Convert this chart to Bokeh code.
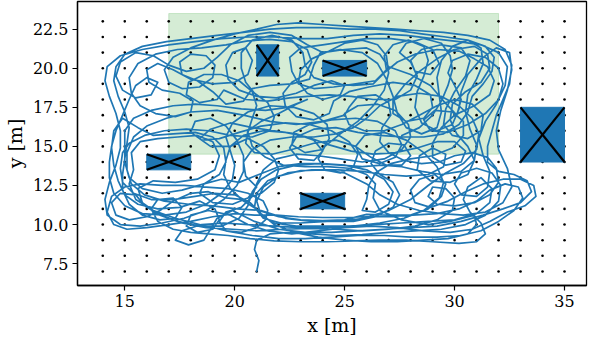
from bokeh.plotting import figure
from bokeh.models import Range1d, FixedTicker, PrintfTickFormatter
from bokeh.embed import file_html
from bokeh.resources import INLINE

# ---------------- data ----------------
x_ticks = [15, 20, 25, 30, 35]
y_ticks = [7.5, 10.0, 12.5, 15.0, 17.5, 20.0, 22.5]

grid_x = list(range(14, 36))
grid_y = list(range(7, 24))

goal_left, goal_right, goal_bottom, goal_top = 17, 32, 14.5, 23.5

obs_x0 = [21, 24, 16, 23, 33]
obs_x1 = [22, 26, 18, 25, 35]
obs_y0 = [19.5, 19.5, 13.5, 11.0, 14.0]
obs_y1 = [21.5, 20.5, 14.5, 12.0, 17.5]

trajectory = [
    (21.0,7.0),(21.1,7.7),(20.9,8.4),(21.0,9.0),(21.6,9.4),(22.5,9.5),(23.5,9.4),(24.6,9.3),(25.8,9.35),(27.0,9.5),
    (28.2,9.6),(29.4,9.7),(30.5,10.0),(31.4,10.6),(32.0,11.5),(32.1,12.5),(31.7,13.3),(31.0,13.6),(30.3,13.3),(30.0,12.6),
    (30.3,11.9),(31.0,11.8),(31.5,12.4),(31.6,13.4),(31.3,14.4),(31.1,15.5),(31.4,16.6),(31.9,17.7),(32.3,18.9),(32.4,20.1),
    (32.0,21.0),(31.2,21.5),(30.2,21.7),(29.0,21.9),(27.8,22.1),(26.6,22.2),(25.4,22.1),(24.2,21.9),(23.0,21.9),(21.8,22.0),
    (20.6,22.0),(19.4,21.9),(18.2,21.7),(17.0,21.5),(15.8,21.2),(14.8,20.8),(14.2,20.1),(14.1,19.2),(14.3,18.2),(14.6,17.1),
    (14.8,16.0),(14.8,14.9),(14.6,13.8),(14.3,12.7),(14.1,11.6),(14.2,10.6),(14.8,10.0),(15.7,9.9),(16.7,10.1),(17.7,10.4),
    (18.7,10.9),(19.5,11.6),(20.1,12.5),(20.4,13.4),(20.4,14.4),(20.1,15.4),(19.6,16.3),(18.9,16.8),(18.2,16.6),(18.0,15.9),
    (18.5,15.4),(19.3,15.5),(20.2,15.9),(21.2,16.3),(22.3,16.5),(23.4,16.4),(24.4,16.0),(25.2,15.3),(25.6,14.5),(25.4,13.7),
    (24.8,13.3),(24.1,13.5),(23.8,14.2),(24.1,15.0),(24.8,15.8),(25.6,16.6),(26.3,17.6),(26.8,18.6),(27.0,19.7),(26.9,20.8),
    (26.5,21.5),
    (25.8,21.8),(25.0,21.6),(24.3,21.1),(23.5,20.6),(23.0,19.9),(22.9,19.1),(23.3,18.4),(24.0,18.0),(24.8,18.3),(25.0,18.9),
    (24.4,19.2),(23.6,18.9),(22.8,18.4),(21.9,18.1),(21.0,18.2),(20.2,18.6),(19.7,19.3),(19.6,20.2),(19.9,21.0),(20.5,21.3),
    (20.8,20.5),(20.6,19.6),(20.0,19.1),(19.0,19.0),(18.0,19.3),(17.2,19.9),(16.5,20.3),(16.0,19.9),(16.1,19.1),(16.7,18.6),
    (17.5,18.4),(18.1,17.9),(18.0,17.2),(17.3,16.9),(16.4,17.1),(15.7,17.6),(15.3,18.4),(15.2,19.4),(15.6,20.3),(16.4,20.9),
    (17.4,21.2),(18.5,21.3),(19.6,21.5),(20.6,21.75),(21.6,21.85),(22.6,21.7),(23.3,21.2),(23.5,20.4),(23.2,19.6),(22.6,19.1),
    (22.2,18.4),(22.3,17.6),(22.8,16.9),(23.6,16.7),(24.3,17.1),(24.5,17.9),(25.2,18.5),(26.1,18.8),(27.2,19.1),(28.2,18.9),
    (28.9,18.3),(29.0,17.5),(28.6,16.8),(27.8,16.6),(27.2,17.1),(27.2,18.0),(27.7,18.9),(28.4,19.8),(29.2,20.6),(30.0,21.2),
    (30.9,21.4),(31.5,20.9),(31.6,20.0),(31.2,19.1),(30.5,18.5),(29.9,17.7),(29.8,16.7),(30.1,15.8),(30.6,15.0),(30.9,14.1),
    (30.6,13.2),(29.8,12.7),(28.9,12.8),(28.3,13.5),(28.4,14.4),(29.0,14.9),(29.6,14.5),(29.5,13.7),(28.8,13.2),(27.8,13.1),
    (26.8,13.2),(25.8,13.4),(24.7,13.5),(23.5,13.5),(22.4,13.3),(21.5,12.8),(21.0,12.0),(20.9,11.1),(21.3,10.4),(22.1,10.1),
    (23.0,10.1),(24.2,10.2),(25.4,10.2),(26.4,10.5),(27.2,11.1),(27.5,11.9),(27.2,12.7),(26.6,13.2),(26.2,13.9),(26.4,14.7),
    (27.0,15.2),(27.7,15.1),(28.0,14.4),(27.6,13.8),(26.9,13.8),(26.2,14.3),(25.5,15.0),(24.6,15.4),(23.6,15.2),(22.6,14.8),
    (21.7,14.5),(20.9,14.6),(20.5,15.2),(20.6,16.0),(21.2,16.6),(22.0,17.1),(22.8,17.7),(23.3,18.0),
    (22.4,17.5),(21.4,17.3),(20.3,17.4),(19.2,17.6),(18.2,17.7),(17.2,17.6),(16.2,17.3),(15.4,16.8),(15.0,16.0),(15.0,15.0),
    (15.0,14.0),(15.2,13.0),(15.8,12.3),(16.7,12.0),(17.6,12.2),(18.6,12.6),(19.3,13.2),(19.6,14.0),(19.5,14.9),(19.0,15.6),
    (18.2,15.9),(17.2,15.8),(16.3,15.7),(15.6,16.2),(14.9,16.8),(14.5,16.0),(14.4,14.9),(14.5,13.8),(14.7,12.8),(15.0,11.9),
    (15.6,11.3),(16.5,11.0),(17.5,11.1),(18.4,11.5),(19.1,11.0),(19.3,10.3),(19.0,9.7),(18.3,9.5),(17.8,9.9),(18.0,10.6),
    (18.8,10.9),(19.8,10.6),(20.6,10.0),(21.5,9.6),(22.6,9.4),(23.8,9.6),(25.0,9.8),(26.2,9.9),(27.4,9.8),(28.6,9.6),
    (29.8,9.5),(30.8,9.7),(31.6,10.2),(32.4,10.8),(33.2,11.2),(33.7,11.8),(33.6,12.5),(33.0,12.9),(32.2,12.9),(31.3,12.6),
    (30.5,12.1),(29.7,11.5),(28.9,11.1),(28.2,11.4),(28.0,12.2),(28.4,12.9),(29.1,13.2),(29.6,12.6),(29.4,11.8),(28.8,11.0),
    (28.0,10.6),(27.0,10.5),(26.0,10.5),(25.0,10.45),(24.0,10.45),(22.9,10.5),(21.9,10.6),(20.9,10.6),(20.0,10.7),(19.0,10.5),
    (18.0,10.2),(17.0,10.0),(16.0,9.8),(15.1,9.7),(14.5,10.0),(14.2,10.8),(14.4,11.8),(15.0,12.4),(15.7,12.6),(16.7,12.5),
    (17.7,12.5),(18.7,12.4),(19.7,12.3),(20.6,12.0),(21.3,11.5),(21.5,10.9),(21.4,10.3),(21.0,9.8),(20.3,9.5),(19.6,9.6),
    (19.3,10.2),(19.6,10.8),(20.3,11.1),
    (20.8,11.8),(21.0,12.6),(21.3,13.5),(21.9,14.2),(22.8,14.5),(23.8,14.4),(24.8,14.2),(25.8,14.0),(26.8,14.2),(27.6,14.8),
    (28.0,15.6),(27.9,16.4),(27.3,17.3),(26.5,17.7),(25.6,17.6),(25.0,17.1),(25.2,16.4),(25.9,16.0),(26.8,16.0),(27.6,16.4),
    (28.4,17.0),(29.2,17.6),(30.0,18.0),(30.8,17.7),(31.3,17.0),(31.2,16.0),(30.6,15.5),(29.9,15.7),(29.5,16.4),(29.6,17.4),
    (30.0,18.5),(30.5,19.5),(30.7,20.5),(30.3,21.3),(29.4,21.5),(28.5,21.2),(28.0,20.5),(28.2,19.8),(28.9,19.6),(29.3,20.3),
    (29.0,21.2),(28.2,21.7),(27.1,21.9),(26.0,21.9),(25.0,21.7),(24.0,21.5),(23.0,21.3),(22.5,20.7),(22.6,19.8),(22.9,19.0),
    (23.6,18.7),(24.5,18.8),(25.5,19.0),(26.4,19.2),(26.9,19.9),(26.8,20.8),(27.2,21.5),(27.9,21.8),(28.6,21.4),(28.8,20.5),
    (28.6,19.5),(28.3,18.5),(28.2,17.5),(28.5,16.5),(29.2,16.0),(29.9,16.4),(30.2,17.4),(30.3,18.5),(30.6,19.6),(31.2,20.6),
    (31.9,21.3),(32.5,21.0),(32.6,19.9),(32.4,18.6),(32.1,17.3),(31.9,16.0),(32.0,14.8),(32.4,13.6),(32.6,12.4),(32.2,11.4),
    (31.4,10.8),(30.4,10.6),(29.4,10.7),(28.4,10.9),(27.4,11.3),(26.6,11.9),(26.0,12.6),(25.0,13.3),(24.0,13.5),(23.0,13.45),
    (22.0,13.1),(21.3,12.4),(21.0,11.5),(21.2,10.6),(21.8,10.1),(22.8,9.9),(24.0,9.9),(25.2,9.9),(26.4,10.0),(27.6,10.1),
    (28.8,10.2),(30.0,10.3),(31.0,10.7),(31.6,11.4),(31.7,12.3),(31.2,13.0),
    (30.6,12.4),(30.4,11.6),(30.7,10.8),(31.2,10.1),(31.4,9.4),(31.0,8.9),(30.2,8.8),(29.0,8.9),(27.8,9.0),(26.6,9.0),
    (25.4,8.95),(24.2,8.9),(23.0,8.9),(21.8,8.95),(20.7,9.1),(19.7,9.3),(18.8,9.4),(18.0,9.5),(17.2,9.7),(16.5,10.2),
    (16.2,11.0),(16.5,11.6),(17.2,11.7),(17.6,11.1),(17.3,10.4),(16.6,10.3),(15.8,10.6),(15.2,11.3),(14.9,12.2),(14.9,13.2),
    (15.0,14.2),(15.1,15.2),(15.2,16.2),(15.0,17.2),(14.7,18.2),(14.5,19.2),(14.6,20.1),(15.0,20.9),(15.8,21.4),(16.9,21.7),
    (18.0,21.9),(19.2,22.1),(20.4,22.3),(21.6,22.5),(22.8,22.6),(24.0,22.6),(25.2,22.5),(26.4,22.5),(27.5,22.4),(28.5,22.2),
    (29.6,22.0),(30.6,21.8),(31.4,21.4),(31.8,20.7),(31.7,19.8),(31.3,19.0),(30.8,18.2),(30.6,17.2),(30.2,16.4),(29.5,15.8),
    (28.6,15.6),(27.6,15.6),(26.6,15.7),(25.6,15.9),(24.6,16.2),(23.6,16.1),(22.8,15.6),(22.5,14.9),(22.9,14.2),(23.6,14.1),
    (24.0,14.7),(23.6,15.4),(22.8,15.8),(21.8,16.0),(20.8,16.2),(19.8,16.5),(18.9,16.1),(18.4,15.5),(18.9,15.0),(19.8,15.0),
    (20.6,15.5),
    (21.3,15.0),(21.8,14.2),(22.0,13.5),(21.8,12.7),(21.2,12.0),(20.4,11.6),(19.6,11.7),(18.8,12.1),(18.0,12.0),(17.2,11.5),
    (16.6,10.9),(16.0,10.5),(15.2,10.3),(14.6,10.6),(14.4,11.4),(14.8,12.0),(15.5,11.9),(15.9,11.2),(16.6,10.6),(17.6,10.1),
    (18.7,9.8),(19.9,9.7),(21.0,9.6),(22.2,9.7),(23.4,9.75),(24.6,9.7),(25.8,9.6),(27.0,9.7),(28.2,9.9),(29.2,10.3),
    (29.9,10.9),(30.0,11.7),(29.6,12.3),(29.0,12.4),(28.8,11.8),(29.2,11.3),(30.0,11.2),(30.9,11.4),(31.6,11.9),(32.0,12.7),
    (31.9,13.6),(31.5,14.3),(30.8,14.6),(30.0,14.4),(29.3,14.0),(28.5,13.9),(27.7,14.1),(27.0,14.6),(26.6,15.3),(26.7,16.2),
    (27.1,17.0),(27.0,17.8),(26.4,18.3),(25.6,18.2),(25.2,17.5),(25.0,17.0),
    (24.0,16.6),(22.8,16.4),(21.6,16.6),(20.4,17.0),(19.2,17.3),(18.0,17.2),(16.9,16.8),(16.0,16.3),(15.4,15.6),(15.1,14.6),
    (15.1,13.5),(15.3,12.6),(15.9,11.9),(16.8,11.5),(17.9,11.3),(19.0,11.2),(20.1,11.0),(21.2,10.9),(22.3,10.4),(23.5,10.2),
    (24.7,10.2),(25.9,10.4),(27.0,10.9),(28.0,11.6),(28.8,12.5),(29.6,13.3),(30.4,13.9),(31.0,14.8),(31.1,15.8),(30.8,16.8),
    (30.2,17.6),(29.4,18.2),(28.4,18.4),(27.4,18.2),(26.6,17.6),(26.0,16.8),(25.4,16.2),(24.6,15.8),(23.6,15.6),(22.6,15.6),
    (21.6,15.4),(20.8,14.8),(20.4,14.0),(20.5,13.1),(21.0,12.4),(20.6,11.7),(19.9,11.3),(19.0,11.4),(18.4,12.0),(18.6,12.6),
    (19.4,12.9),(20.2,12.7),(21.1,13.2),(22.0,13.7),(23.0,13.9),(24.0,13.9),(25.0,13.8),(26.0,13.5),(26.8,12.9),(27.2,12.1),
    (27.0,11.3),(26.4,10.8),(25.8,10.9),(26.0,11.6),(26.1,12.5),(26.4,13.3),(27.1,13.9),(28.0,14.2),(29.0,14.4),(29.9,14.9),
    (30.4,15.7),(30.4,16.6),(29.9,17.2),(29.1,17.3),(28.6,16.7),(28.9,16.0),(29.7,15.9),(30.6,16.4),(31.4,17.1),(32.0,18.0),
    (32.2,19.0),(32.0,20.0),(31.4,20.7),(30.6,20.9),(29.9,20.5),(29.7,19.7),(30.0,18.9),(30.3,18.0),(30.1,17.0),
    (29.5,17.9),(28.9,18.9),(28.0,19.6),(27.0,20.1),(26.6,20.9),(26.0,21.3),(25.0,21.2),(24.0,21.0),(23.3,21.5),(22.6,22.1),
    (21.6,22.3),(20.6,22.1),(19.8,21.5),(19.2,20.7),(18.6,20.0),(17.8,19.8),(17.0,20.2),(16.3,20.8),(15.5,21.0),(14.8,20.4),
    (14.6,19.5),(14.9,18.6),(15.5,18.1),(16.2,18.3),(16.5,19.1),(16.0,19.4),(15.5,18.9),(15.2,18.0),(14.9,17.0),(14.6,16.0),
    (14.4,15.0),(14.3,14.0),(14.3,13.0),(14.5,12.0),(15.0,11.2),(15.8,10.7),(16.8,10.6),(17.8,10.8),(18.7,11.3),(19.4,12.0),
    (19.9,12.9),(20.0,13.8),(19.8,14.7),(19.6,15.6),(19.9,16.5),(20.6,17.2),(21.6,17.6),(22.7,17.5),(23.6,17.1),(24.2,16.4),
    (24.3,15.5),(24.0,14.8),(23.2,14.6),(22.6,15.1),(22.7,15.9),(23.4,16.4),(24.4,16.7),(25.5,16.8),(26.5,16.6),(27.3,16.0),
    (27.6,15.1),(27.3,14.3),(26.6,13.9),(25.8,14.2),(25.5,15.0),(25.9,15.7),(26.8,15.9),(27.8,15.4),(28.6,14.6),(29.2,13.7),
    (29.5,12.7),(29.3,11.7),(28.6,10.9),(27.7,10.4),(26.6,10.1),(25.4,9.9),(24.2,9.8),(23.0,9.8),(21.8,9.9),(20.6,10.0),
    (19.5,10.1),(18.5,10.0),(17.6,9.6),(17.3,9.0),(17.9,8.7),(18.6,9.0),(18.9,9.7),(19.2,10.4),(19.9,10.9),
    (20.9,10.2),(22.0,9.7),(23.2,9.5),(24.4,9.5),(25.6,9.6),(26.8,9.7),(28.0,9.8),(29.2,9.9),(30.3,10.2),(31.3,10.6),
    (32.2,11.0),(33.0,11.4),(33.5,12.1),(33.3,12.8),(32.7,13.2),(32.0,13.4),(31.5,14.0),(31.5,15.0),(31.7,16.0),(31.9,17.0),
    (32.2,18.0),(32.5,19.0),(32.6,20.2),(32.3,21.2),(31.6,21.8),(30.6,22.1),(29.5,22.3),(28.4,22.4),(27.3,22.5),(26.2,22.6),
    (25.1,22.7),(24.0,22.8),(22.9,22.9),(21.9,22.8),(21.0,22.5),(20.0,22.2),(19.0,21.8),(18.0,21.3),(17.2,20.7),(16.8,19.9),
    (17.0,19.1),(17.6,18.7),(18.4,18.8),(19.0,19.4),(19.1,20.2),(18.7,20.8),(18.0,20.9),(17.5,20.4),(17.6,19.6),(18.3,19.2),
    (19.0,18.5),(19.6,17.7),(20.4,17.9),(20.8,18.7),(21.6,18.9),(22.6,19.0),(23.4,19.3),(23.6,20.2),(23.9,21.0),(24.8,21.2),
    (25.8,21.0),(26.5,20.3),(26.9,19.3),(27.2,18.2),(27.4,17.1),(27.8,16.2),(28.5,15.8),(29.2,16.2),(29.4,17.2),(29.3,18.3),
    (29.2,19.4),(29.4,20.5),(29.9,21.4),(30.6,21.8),(31.2,21.3),(31.3,20.3),(31.0,19.3),(30.6,18.3),(30.5,17.2),(30.7,16.1),
    (31.0,15.1),(30.9,14.1),(30.3,13.4),(29.4,13.2),(28.5,13.4),(27.6,13.7),(26.7,13.8),(25.8,13.7),(24.8,13.8),(23.8,13.9),
    (22.8,13.8),(21.9,13.5),(21.2,12.9),(20.8,12.1),(20.6,11.2),(20.2,10.4),(19.4,9.9),(18.4,9.9),(17.4,10.2),(16.5,10.7),
    (15.8,11.4),(15.6,12.3),(16.3,12.8),(17.3,12.7),(18.3,12.9),(19.1,13.5),(19.3,14.4),(19.0,15.3),(18.3,15.7),(17.4,15.6),
    (16.5,15.5),(15.7,15.3),(15.3,14.6),(15.4,13.5),
    (15.2,12.6),(15.5,11.6),(16.3,10.9),(17.3,10.4),(18.4,10.0),(19.6,9.6),(20.8,9.3),(22.0,9.1),(23.2,9.1),(24.4,9.2),
    (25.6,9.3),(26.8,9.3),(28.0,9.2),(29.2,9.2),(30.3,9.3),(31.2,9.6),(32.0,10.2),(32.7,10.9),(33.1,11.7),(32.9,12.4),
    (32.3,12.6),(31.6,12.2),(31.0,11.5),(30.2,11.0),(29.2,10.7),(28.1,10.6),(27.0,10.6),(26.0,10.65),(25.0,10.3),(24.0,10.25),
    (23.0,10.3),(22.0,10.5),(21.1,10.9),(20.4,11.5),(19.8,12.3),(19.5,13.2),(19.6,14.1),(19.8,15.0),(20.4,15.7),(21.3,16.0),
    (22.3,15.9),(23.3,15.6),(24.3,15.1),(25.3,14.7),(26.3,14.5),(27.3,14.6),(28.3,14.9),(29.2,15.3),(30.0,15.3),(30.5,14.7),
    (30.3,14.0),(29.6,13.8),(29.0,14.3),(29.0,15.2),(29.4,16.2),(30.0,17.0),(30.9,17.6),(31.6,18.3),(31.8,19.2),(31.5,20.1),
    (30.9,20.6),(30.2,21.1),(29.2,21.2),(28.2,20.9),(27.4,20.4),(26.8,19.7),(26.3,19.0),(25.4,18.9),(24.5,19.0),(23.6,19.4),
    (23.2,20.2),(23.1,21.0),(22.6,21.8),(21.7,22.1),(20.8,21.8),(20.3,21.0),(20.3,20.0),(20.5,19.1),(20.9,18.4),(21.5,17.8),
    (21.8,16.9),(21.6,16.0),
    (20.8,15.6),(19.8,15.7),(18.8,16.0),(17.8,16.1),(16.8,16.0),(15.9,15.7),(15.2,15.2),(14.9,14.6),(14.8,13.6),(14.9,12.7),
    (15.4,12.0),(16.2,11.6),(17.2,11.6),(18.2,11.8),(19.1,12.0),(20.0,11.9),(20.7,11.4),(21.2,10.7),(21.8,10.0),(22.7,9.5),
    (23.8,9.2),(25.0,9.0),(26.2,8.9),(27.4,8.9),(28.6,9.0),(29.7,9.1),(30.6,9.4),(31.0,10.0),(30.9,10.6),(29.8,10.2),
    (28.8,10.0),(27.6,10.3),(26.6,10.9),(26.3,11.7),(26.4,12.6),(26.0,13.2),(25.2,13.6),(24.2,13.7),(23.2,13.7),(22.2,13.8),
    (21.4,14.3),(20.8,15.0),(20.6,15.9),(20.8,16.8),(21.0,17.6),(20.8,18.5),(20.2,19.2),(19.4,19.6),(18.6,19.6),(17.9,19.1),
    (17.8,18.3),(18.4,17.8),(19.2,18.0),(19.5,18.6),
    (20.5,18.0),(21.5,17.9),(22.5,18.1),(23.3,18.2),(24.3,18.3),(25.3,18.2),(26.3,18.0),(27.3,18.0),(28.0,18.6),(28.3,19.5),
    (28.0,20.4),(27.5,21.0),(27.8,21.6),(28.6,21.9),(29.4,21.6),(29.8,20.8),(29.9,19.9),(29.7,18.9),(29.4,17.9),(29.0,17.0),
    (28.4,16.2),(27.6,15.7),
]

# ---------------- figure ----------------
p = figure(width=588, height=338, output_backend="svg", toolbar_location=None,
           x_range=Range1d(12.85, 36.0), y_range=Range1d(6.1, 24.27),
           min_border_left=70, min_border_right=2, min_border_top=1, min_border_bottom=4)

p.grid.visible = False
p.background_fill_color = "white"
p.border_fill_color = "white"
p.outline_line_color = "black"
p.outline_line_width = 1.3

p.xaxis.ticker = FixedTicker(ticks=x_ticks)
p.yaxis.ticker = FixedTicker(ticks=y_ticks)
p.yaxis.formatter = PrintfTickFormatter(format="%.1f")
p.xaxis.axis_label = "x [m]"
p.yaxis.axis_label = "y [m]"
for ax in (p.xaxis, p.yaxis):
    ax.major_label_text_font = "DejaVu Serif"
    ax.major_label_text_font_size = "16px"
    ax.major_label_text_color = "black"
    ax.axis_label_text_font = "DejaVu Serif"
    ax.axis_label_text_font_size = "19px"
    ax.axis_label_text_font_style = "normal"
    ax.axis_label_text_color = "black"
    ax.axis_line_color = "black"
    ax.axis_line_width = 1.3
    ax.major_tick_line_color = "black"
    ax.major_tick_line_width = 1.2
    ax.major_tick_out = 5
    ax.major_tick_in = 0
    ax.minor_tick_line_color = None
    ax.major_label_standoff = 4
    ax.axis_label_standoff = 4

# goal region
p.quad(left=[goal_left], right=[goal_right], bottom=[goal_bottom], top=[goal_top],
       fill_color="#2ca02c", fill_alpha=0.2, line_color="#2ca02c", line_alpha=0.2, line_width=1)

# grid dots
gx = [x for y in grid_y for x in grid_x]
gy = [y for y in grid_y for x in grid_x]
p.scatter(gx, gy, size=2.6, marker="circle", color="black", line_width=0)

# trajectory
tx = [pt[0] for pt in trajectory]
ty = [pt[1] for pt in trajectory]
p.line(tx, ty, line_color="#1f77b4", line_width=1.7, line_join="round", line_cap="round")

# obstacles
p.quad(left=obs_x0, right=obs_x1, bottom=obs_y0, top=obs_y1,
       fill_color="#1f77b4", line_color="#1f77b4", line_width=1)
p.segment(x0=obs_x0, y0=obs_y0, x1=obs_x1, y1=obs_y1, line_color="black", line_width=2.2)
p.segment(x0=obs_x0, y0=obs_y1, x1=obs_x1, y1=obs_y0, line_color="black", line_width=2.2)

open("out.html", "w").write(file_html(p, INLINE))
